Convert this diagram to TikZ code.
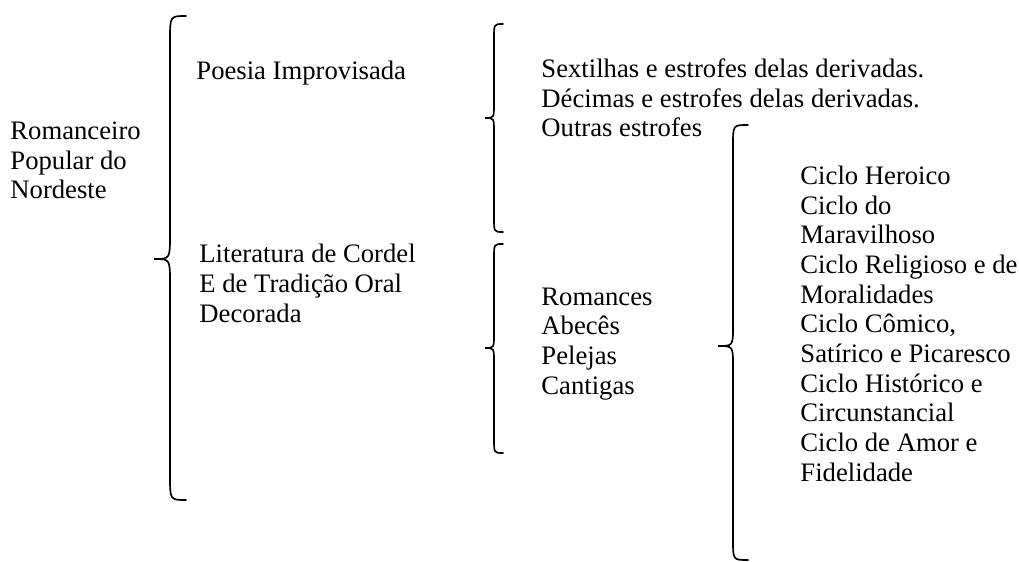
\documentclass[tikz,border=0pt]{standalone}
\usepackage{fontspec}
\setmainfont{Liberation Serif}
\usepackage{tikz}

\tikzset{
  rotulo/.style={anchor=base west, inner sep=0pt, align=left, font=\fontsize{12}{13.35}\selectfont},
  chave/.style={line width=0.75pt, line cap=round}
}

\begin{document}
\begin{tikzpicture}[x=0.45pt, y=-0.45pt]
    \useasboundingbox (0,0) rectangle (1019,562);

    % chaves: ponta, linha, bico, topo, meio, base, raio
    \foreach \xe/\xl/\xt/\ya/\ym/\yb/\r in {186/170/154/16/259/500/24, 503/494/485/24/118/232/14, 503/494/485/244/348/453/14, 748/733/718/125/346/560/20}
        \draw[chave] (\xe,\ya) .. controls (\xl,\ya) .. (\xl,\ya+\r) -- (\xl,\ym-\r)
            .. controls (\xl,\ym) .. (\xt,\ym) .. controls (\xl,\ym) .. (\xl,\ym+\r)
            -- (\xl,\yb-\r) .. controls (\xl,\yb) .. (\xe,\yb);

    % a ancora base fica na ultima linha
    \node[rotulo] (romanceiro) at (10,199) {Romanceiro\\Popular do\\Nordeste};
    \node[rotulo] (poesia) at (196,80) {Poesia Improvisada};
    \node[rotulo] (cordel) at (199,322) {Literatura de Cordel\\E de Tradição Oral\\Decorada};
    \node[rotulo] (estrofes) at (541,137) {Sextilhas e estrofes delas derivadas.\\Décimas e estrofes delas derivadas.\\Outras estrofes};
    \node[rotulo] (generos) at (541,394) {Romances\\Abecês\\Pelejas\\Cantigas};
    \node[rotulo] (ciclos) at (800,481) {Ciclo Heroico\\Ciclo do\\Maravilhoso\\Ciclo Religioso e de\\Moralidades\\Ciclo Cômico,\\Satírico e Picaresco\\Ciclo Histórico e\\Circunstancial\\Ciclo de Amor e\\Fidelidade};

\end{tikzpicture}
\end{document}
